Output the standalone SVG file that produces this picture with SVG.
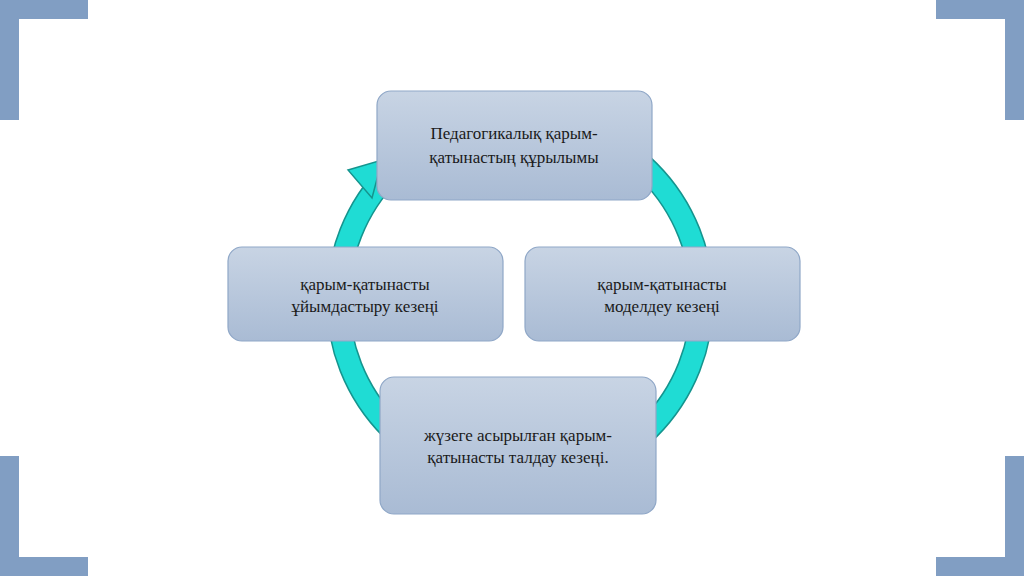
<svg xmlns="http://www.w3.org/2000/svg" width="1024" height="576" viewBox="0 0 1024 576">
<defs>
<linearGradient id="g" x1="0" y1="0" x2="0" y2="1"><stop offset="0" stop-color="#c8d4e4"/><stop offset="1" stop-color="#a9bbd4"/></linearGradient>
<style>
.c{fill:#819ec3}
.n{fill:url(#g);stroke:#8fa7c7;stroke-width:1.2}
.t{font-family:"Liberation Serif",serif;font-size:17px;fill:#1a1a1a;text-anchor:middle}
</style>
</defs>
<rect width="1024" height="576" fill="#fff"/>
<g id="corners">
<rect class="c" x="0" y="0" width="88" height="19"/><rect class="c" x="0" y="0" width="19" height="120"/>
<rect class="c" x="936" y="0" width="88" height="19"/><rect class="c" x="1005" y="0" width="19" height="120"/>
<rect class="c" x="0" y="557" width="88" height="19"/><rect class="c" x="0" y="456" width="19" height="120"/>
<rect class="c" x="936" y="557" width="88" height="19"/><rect class="c" x="1005" y="456" width="19" height="120"/>
</g>
<g id="connectors">
<circle cx="520" cy="300" r="182" fill="none" stroke="#15948e" stroke-width="24"/>
<circle cx="520" cy="300" r="182" fill="none" stroke="#1fdcd4" stroke-width="21"/>
<polygon points="348,170 382,160 372,198" fill="#1fdcd4" stroke="#15948e" stroke-width="1.5"/>
</g>
<g id="n1"><rect class="n" x="377" y="91" width="275" height="109" rx="14"/>
<text class="t" x="514" y="139">Педагогикалық қарым-</text><text class="t" x="514" y="163">қатынастың құрылымы</text></g>
<g id="n2"><rect class="n" x="525" y="247" width="275" height="94" rx="14"/>
<text class="t" x="662" y="290">қарым-қатынасты</text><text class="t" x="662" y="312">моделдеу кезеңі</text></g>
<g id="n3"><rect class="n" x="380" y="377" width="276" height="137" rx="14"/>
<text class="t" x="518" y="441">жүзеге асырылған қарым-</text><text class="t" x="518" y="463">қатынасты талдау кезеңі.</text></g>
<g id="n4"><rect class="n" x="228" y="247" width="275" height="94" rx="14"/>
<text class="t" x="365" y="290">қарым-қатынасты</text><text class="t" x="365" y="312">ұйымдастыру кезеңі</text></g>
</svg>
